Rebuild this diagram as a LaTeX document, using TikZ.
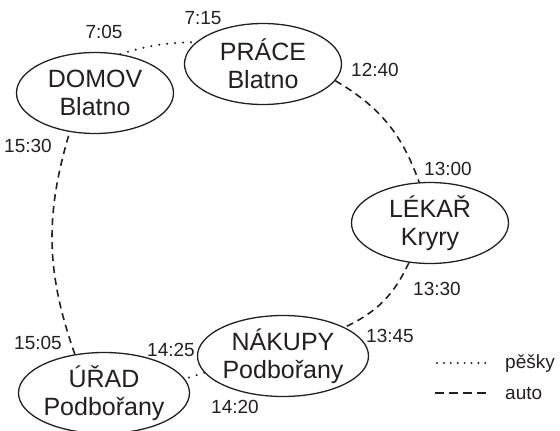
\documentclass[tikz,border=0pt]{standalone}
\usepackage{fontspec}
\setmainfont{Liberation Sans}
\usetikzlibrary{shapes.geometric}
\definecolor{ink}{HTML}{231F20}
\tikzset{
  place/.style={ellipse, draw=ink, line width=1.3pt, minimum width=157pt, minimum height=81pt, inner sep=0pt, align=center, text=ink, font=\fontsize{25}{28}\selectfont},
  tlabel/.style={text=ink, inner sep=0pt, font=\fontsize{19}{21}\selectfont},
  dotline/.style={draw=ink, line width=2.3pt, line cap=round, dash pattern=on 0pt off 8pt},
  legdot/.style={draw=ink, line width=2.2pt, line cap=round, dash pattern=on 0pt off 6.9pt},
  dashline/.style={draw=ink, line width=1.6pt, dash pattern=on 7pt off 5pt},
  legdash/.style={draw=ink, line width=1.7pt, dash pattern=on 9.3pt off 4.7pt}
}
\begin{document}
\begin{tikzpicture}[x=1pt,y=1pt]
\useasboundingbox (0,0) rectangle (560,-431);
\node[place] (domov) at (95,-93) {DOMOV\\Blatno};
\node[place] (prace) at (263,-64) {PRÁCE\\Blatno};
\node[place] (lekar) at (430,-223) {LÉKAŘ\\Kryry};
\node[place] (nakupy) at (283,-356) {NÁKUPY\\Podbořany};
\node[place] (urad) at (104,-393) {ÚŘAD\\Podbořany};

\draw[dotline] (domov.57) to[bend left=8] (prace.162);
\draw[dashline] (prace.-13) to[bend left=20] (lekar.105);
\draw[dashline] (lekar.-118) to[bend left=20] (nakupy.25);
\draw[dotline] (nakupy.192) -- (urad.10);
\draw[dashline] (urad.127) to[bend left=18] (domov.-123);

\node[tlabel] (t705) at (104,-32) {7:05};
\node[tlabel] (t715) at (203,-18) {7:15};
\node[tlabel] (t1240) at (375,-70) {12:40};
\node[tlabel] (t1300) at (448,-169) {13:00};
\node[tlabel] (t1330) at (437,-289) {13:30};
\node[tlabel] (t1345) at (390,-336) {13:45};
\node[tlabel] (t1425) at (171,-350) {14:25};
\node[tlabel] (t1420) at (235,-407) {14:20};
\node[tlabel] (t1505) at (38,-343) {15:05};
\node[tlabel] (t1530) at (28,-146) {15:30};

\coordinate (d1) at (437,-363);
\coordinate (d2) at (486,-363);
\coordinate (a1) at (435,-393);
\coordinate (a2) at (488,-393);
\draw[legdot] (d1) -- (d2);
\draw[legdash] (a1) -- (a2);
\node[tlabel, anchor=west] (lp) at (505,-364) {pěšky};
\node[tlabel, anchor=west] (la) at (505,-393) {auto};
\end{tikzpicture}
\end{document}
